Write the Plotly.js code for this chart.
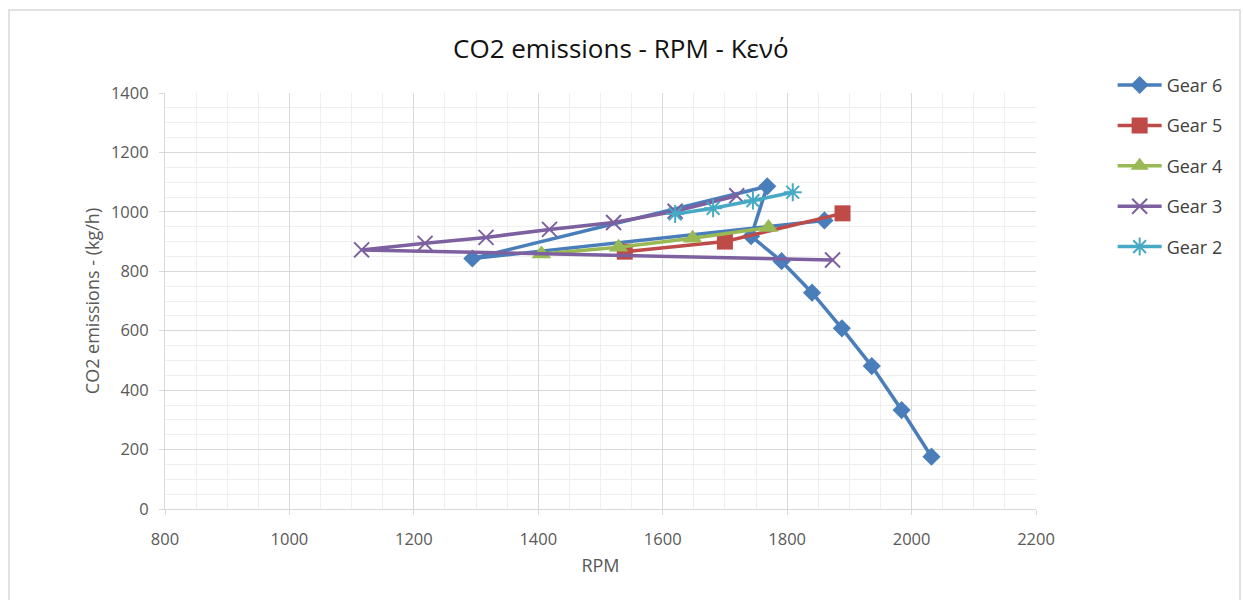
<!DOCTYPE html>
<html>
<head>
<meta charset="utf-8">
<script src="https://cdn.plot.ly/plotly-3.0.1.min.js"></script>
<style>
  html, body { margin: 0; padding: 0; background: #ffffff; }
  #chart { width: 1243px; height: 600px; }
</style>
</head>
<body>
<div id="chart"></div>
<script>
// RPM / CO2 readings per gear (kg/h)
const gear6Rpm = [1860, 1294, 1768, 1742, 1791, 1840, 1888, 1936, 1984, 2032];
const gear6Co2 = [971, 843, 1086, 918, 834, 728, 608, 481, 333, 176];

const gear5Rpm = [1539, 1700, 1889];
const gear5Co2 = [866, 900, 995];

const gear4Rpm = [1405, 1529, 1648, 1770];
const gear4Co2 = [858, 881, 911, 947];

const gear3Rpm = [1873, 1116, 1218, 1316, 1418, 1521, 1620, 1719];
const gear3Co2 = [838, 872, 894, 914, 941, 964, 1002, 1054];

const gear2Rpm = [1620, 1681, 1745, 1809];
const gear2Co2 = [993, 1012, 1038, 1066];

const seriesNames = ['Gear 6', 'Gear 5', 'Gear 4', 'Gear 3', 'Gear 2'];

const FONT = '"Open Sans", Lato, "Liberation Sans", sans-serif';

function series(name, xs, ys, color, symbol, size, open) {
  return {
    type: 'scatter',
    mode: 'lines+markers',
    name: name,
    legendgroup: name,
    x: xs,
    y: ys,
    line: { color: color, width: 3.5 },
    marker: open
      ? { symbol: symbol, size: size, color: color, line: { color: color, width: 2 } }
      : { symbol: symbol, size: size, color: color },
    hoverinfo: 'x+y+name'
  };
}

const traces = [
  series(seriesNames[0], gear6Rpm, gear6Co2, '#4A7EBB', 'diamond', 14, false),
  series(seriesNames[1], gear5Rpm, gear5Co2, '#BE4B48', 'square', 16, false),
  series(seriesNames[2], gear4Rpm, gear4Co2, '#98B954', 'triangle-up', 17, false),
  series(seriesNames[3], gear3Rpm, gear3Co2, '#7D60A0', 'x-thin-open', 15, true),
  series(seriesNames[4], gear2Rpm, gear2Co2, '#46AAC5', 'asterisk-open', 15, true)
];

const axisCommon = {
  showline: true,
  linecolor: '#d9d9d9',
  linewidth: 1,
  ticks: 'outside',
  ticklen: 5,
  tickcolor: '#d9d9d9',
  showgrid: true,
  gridcolor: '#d9d9d9',
  gridwidth: 1,
  zeroline: false,
  tickfont: { family: FONT, size: 16.5, color: '#595959' },
  mirror: false
};

const layout = {
  width: 1243,
  height: 600,
  paper_bgcolor: '#ffffff',
  plot_bgcolor: '#ffffff',
  margin: { l: 165, r: 207, t: 93, b: 91 },
  title: {
    text: 'CO2 emissions - RPM - Κενό',
    font: { family: FONT, size: 26, color: '#111111' },
    x: 0.4995,
    xanchor: 'center',
    y: 0.918,
    yanchor: 'middle'
  },
  xaxis: Object.assign({}, axisCommon, {
    range: [800, 2200],
    dtick: 200,
    tick0: 800,
    ticklabelstandoff: 10,
    minor: { dtick: 50, showgrid: true, gridcolor: '#efefef', gridwidth: 1 },
    title: { text: 'RPM', font: { family: FONT, size: 18, color: '#595959' }, standoff: 10 }
  }),
  yaxis: Object.assign({}, axisCommon, {
    range: [0, 1400],
    dtick: 200,
    tick0: 0,
    ticklabelstandoff: 7,
    minor: { dtick: 50, showgrid: true, gridcolor: '#efefef', gridwidth: 1 },
    title: { text: 'CO2 emissions - (kg/h)', font: { family: FONT, size: 18, color: '#595959' }, standoff: 6 }
  }),
  showlegend: true,
  legend: {
    x: 1.088,
    xanchor: 'left',
    y: 1.063,
    yanchor: 'top',
    font: { family: FONT, size: 18, color: '#404040' },
    tracegroupgap: 14,
    bgcolor: 'rgba(0,0,0,0)',
    itemwidth: 44
  },
  shapes: [
    {
      type: 'rect', xref: 'paper', yref: 'paper',
      x0: (9 - 165) / 871, x1: (1240 - 165) / 871,
      y0: (509 - 640) / 416, y1: (509 - 10) / 416,
      line: { color: '#d9d9d9', width: 1.5 },
      fillcolor: 'rgba(0,0,0,0)',
      layer: 'below'
    }
  ]
};

Plotly.newPlot('chart', traces, layout, { displayModeBar: false, staticPlot: true });
</script>
</body>
</html>
